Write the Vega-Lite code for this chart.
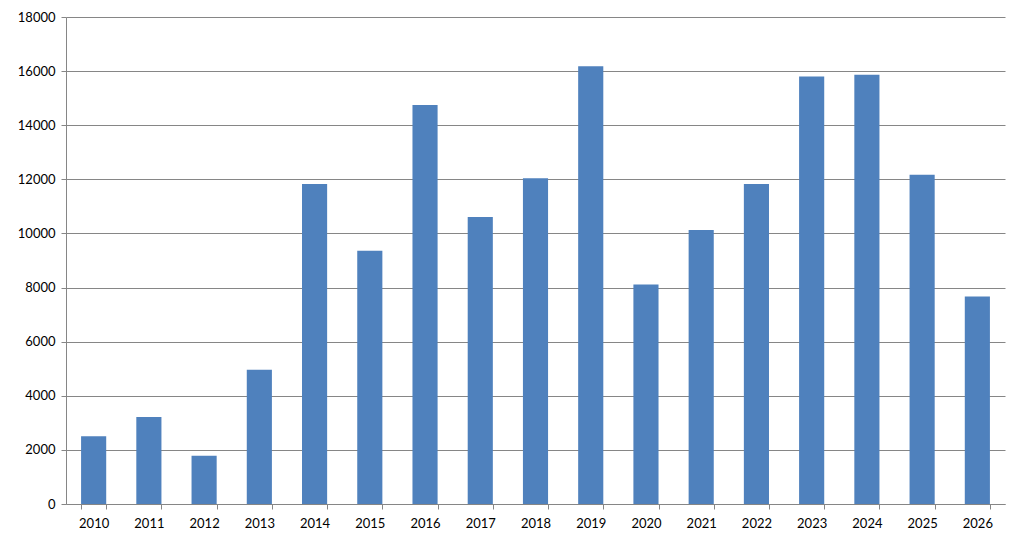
{
  "$schema": "https://vega.github.io/schema/vega-lite/v6.json",
  "description": "Yearly values 2010-2026, Excel-style column chart",
  "width": 939,
  "height": 487,
  "autosize": "none",
  "padding": {"left": 66, "top": 17, "right": 19, "bottom": 42},
  "background": "white",
  "data": {
    "values": [
      {"year": "2010", "value": 2500},
      {"year": "2011", "value": 3220},
      {"year": "2012", "value": 1780},
      {"year": "2013", "value": 4960},
      {"year": "2014", "value": 11830},
      {"year": "2015", "value": 9360},
      {"year": "2016", "value": 14750},
      {"year": "2017", "value": 10610},
      {"year": "2018", "value": 12040},
      {"year": "2019", "value": 16180},
      {"year": "2020", "value": 8110},
      {"year": "2021", "value": 10130},
      {"year": "2022", "value": 11830},
      {"year": "2023", "value": 15800},
      {"year": "2024", "value": 15870},
      {"year": "2025", "value": 12170},
      {"year": "2026", "value": 7670}
    ]
  },
  "mark": {"type": "bar", "color": "#4F81BD"},
  "encoding": {
    "x": {
      "field": "year",
      "type": "ordinal",
      "title": null,
      "scale": {"paddingInner": 0.545, "paddingOuter": 0.273},
      "axis": {
        "labelAngle": 0,
        "tickBand": "extent",
        "tickSize": 5,
        "labelPadding": 8,
        "domainColor": "#868686",
        "tickColor": "#868686",
        "labelFont": "Lato",
        "labelFontSize": 13,
        "labelColor": "#000000",
        "grid": false
      }
    },
    "y": {
      "field": "value",
      "type": "quantitative",
      "title": null,
      "scale": {"domain": [0, 18000], "nice": false},
      "axis": {
        "values": [0, 2000, 4000, 6000, 8000, 10000, 12000, 14000, 16000, 18000],
        "format": "d",
        "tickSize": 5,
        "labelPadding": 6,
        "domainColor": "#868686",
        "tickColor": "#868686",
        "gridColor": "#868686",
        "gridWidth": 1,
        "labelFont": "Lato",
        "labelFontSize": 13,
        "labelColor": "#000000"
      }
    }
  },
  "config": {
    "view": {"stroke": null},
    "axis": {"domainWidth": 1, "tickWidth": 1}
  }
}
